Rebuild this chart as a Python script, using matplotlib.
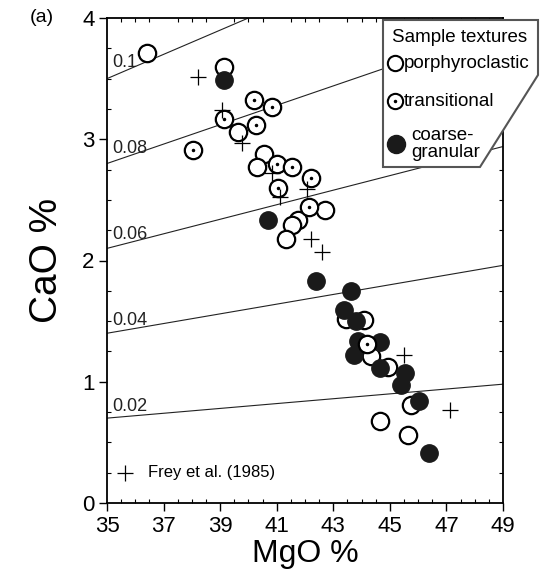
import numpy as np
import matplotlib.pyplot as plt
from matplotlib.patches import Polygon
from matplotlib.ticker import MultipleLocator

plt.rcParams["font.family"] = ["Liberation Sans", "DejaVu Sans"]

# ── data ────────────────────────────────────────────────────────
ratios = [0.02, 0.04, 0.06, 0.08, 0.1]
ratio_labels = ["0.02", "0.04", "0.06", "0.08", "0.1"]
x_ticks = [35, 37, 39, 41, 43, 45, 47, 49]
y_ticks = [0, 1, 2, 3, 4]

porph_mgo = [36.40, 39.14, 39.64, 40.56, 40.29, 42.71, 41.76, 41.53, 41.33,
             43.45, 44.10, 44.35, 44.94, 45.74, 44.65, 45.65]
porph_cao = [3.71, 3.60, 3.06, 2.88, 2.77, 2.42, 2.33, 2.29, 2.18,
             1.52, 1.51, 1.21, 1.12, 0.81, 0.68, 0.56]

trans_mgo = [40.20, 40.84, 39.15, 40.26, 38.05, 41.00, 41.53, 41.06, 42.21,
             42.15, 44.18]
trans_cao = [3.32, 3.27, 3.17, 3.12, 2.91, 2.80, 2.77, 2.60, 2.68,
             2.44, 1.31]

coarse_mgo = [39.14, 40.70, 42.39, 43.61, 43.39, 43.82, 43.88, 44.65, 43.74,
              44.65, 45.53, 45.38, 46.03, 46.39]
coarse_cao = [3.49, 2.33, 1.83, 1.75, 1.59, 1.50, 1.34, 1.33, 1.22,
              1.11, 1.07, 0.97, 0.84, 0.41]

frey_mgo = [38.23, 39.05, 39.76, 40.85, 41.12, 42.06, 42.22, 42.60, 45.50, 47.12]
frey_cao = [3.51, 3.24, 2.97, 2.72, 2.52, 2.59, 2.18, 2.07, 1.22, 0.77]

W, H = 540, 588
fig = plt.figure(figsize=(W / 100, H / 100), dpi=100)
ax = fig.add_axes([107 / W, 1 - 503 / H, (503 - 107) / W, (503 - 18) / H])

# ratio lines CaO/MgO
xs = np.array([35, 49])
for r, lab in zip(ratios, ratio_labels):
    ax.plot(xs, r * xs, color="#222222", lw=0.8, zorder=1)
    ax.text(35.2, r * 35.4 + 0.02, lab, fontsize=13, ha="left", va="bottom",
            color="#222222", zorder=2)

ms = 12.5
ax.plot(porph_mgo, porph_cao, "o", ms=ms, mfc="white", mec="black", mew=1.6, zorder=3)
ax.plot(coarse_mgo, coarse_cao, "o", ms=ms, mfc="#1a1a1a", mec="#1a1a1a", mew=1.0, zorder=4)
ax.plot(trans_mgo, trans_cao, "o", ms=ms, mfc="white", mec="black", mew=1.6, zorder=5)
ax.plot(trans_mgo, trans_cao, ".", ms=3, color="black", zorder=6)
ax.plot(frey_mgo, frey_cao, "+", ms=11, mew=0.9, color="black", zorder=7)

# in-plot key for Frey et al.
ax.plot([35.65], [0.25], "+", ms=11, mew=0.9, color="black")
ax.text(36.45, 0.25, "Frey et al. (1985)", fontsize=12, va="center")

ax.set_xlim(35, 49)
ax.set_ylim(0, 4)
ax.set_xticks(x_ticks)
ax.set_yticks(y_ticks)
ax.xaxis.set_minor_locator(MultipleLocator(0.5))
ax.yaxis.set_minor_locator(MultipleLocator(0.25))
ax.tick_params(which="major", direction="out", length=6, width=1.0, labelsize=16,
               top=False, right=False, pad=3)
ax.tick_params(which="minor", direction="in", length=3, width=0.8,
               top=True, right=True)
for s in ax.spines.values():
    s.set_linewidth(1.3)

ax.set_xlabel("MgO %", fontsize=23, labelpad=2)
ax.set_ylabel("CaO %", fontsize=28, labelpad=12)
fig.text(30 / W, 1 - 18 / H, "(a)", fontsize=14, ha="left", va="center")

# legend box with clipped corner, drawn in figure pixels
def fpt(x, y):
    return (x / W, 1 - y / H)

box = Polygon([fpt(383, 20), fpt(538, 20), fpt(538, 75), fpt(480, 167), fpt(383, 167)],
              closed=True, transform=fig.transFigure, facecolor="white",
              edgecolor="#555555", lw=1.5, zorder=10)
fig.add_artist(box)
fig.text(*fpt(392, 37), "Sample textures", fontsize=13.5, va="center", zorder=11)
fig.add_artist(plt.Line2D([395 / W], [1 - 63 / H], marker="o", ms=11, mfc="white",
                          mec="black", mew=1.5, transform=fig.transFigure, zorder=11))
fig.text(*fpt(404, 63), "porphyroclastic", fontsize=13.5, va="center", zorder=11)
fig.add_artist(plt.Line2D([395 / W], [1 - 101 / H], marker="o", ms=11, mfc="white",
                          mec="black", mew=1.5, transform=fig.transFigure, zorder=11))
fig.add_artist(plt.Line2D([395 / W], [1 - 101 / H], marker=".", ms=3, color="black",
                          transform=fig.transFigure, zorder=12))
fig.text(*fpt(404, 101), "transitional", fontsize=13.5, va="center", zorder=11)
fig.add_artist(plt.Line2D([396 / W], [1 - 144 / H], marker="o", ms=13, mfc="#1a1a1a",
                          mec="#1a1a1a", transform=fig.transFigure, zorder=11))
fig.text(*fpt(411, 144), "coarse-\ngranular", fontsize=13.5, va="center",
         linespacing=0.95, zorder=11)

fig.savefig("out.png", dpi=100)
